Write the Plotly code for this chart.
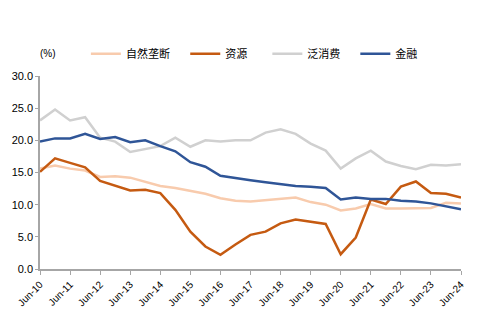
import plotly.graph_objects as go

periods = ["Jun-10","Dec-10","Jun-11","Dec-11","Jun-12","Dec-12","Jun-13","Dec-13",
           "Jun-14","Dec-14","Jun-15","Dec-15","Jun-16","Dec-16","Jun-17","Dec-17",
           "Jun-18","Dec-18","Jun-19","Dec-19","Jun-20","Dec-20","Jun-21","Dec-21",
           "Jun-22","Dec-22","Jun-23","Dec-23","Jun-24"]
tick_labels = [p for p in periods if p.startswith("Jun")]

natural_monopoly = [15.6,16.1,15.6,15.3,14.3,14.4,14.2,13.6,12.9,12.6,12.1,11.7,11.0,10.6,
                    10.5,10.7,10.9,11.1,10.4,10.0,9.1,9.4,10.1,9.4,9.4,9.4,9.5,10.3,10.2]
resources = [15.1,17.2,16.5,15.8,13.7,12.9,12.2,12.3,11.8,9.2,5.8,3.5,2.2,3.8,
             5.3,5.8,7.1,7.7,7.4,7.0,2.3,4.9,10.8,10.1,12.8,13.6,11.8,11.7,11.1]
consumption = [23.1,24.8,23.1,23.6,20.4,19.8,18.2,18.7,19.1,20.4,19.0,20.0,19.8,20.0,
               20.0,21.2,21.7,21.0,19.5,18.4,15.6,17.2,18.4,16.7,16.0,15.5,16.2,16.1,16.3]
finance = [19.8,20.3,20.3,21.0,20.2,20.5,19.7,20.0,19.1,18.3,16.6,15.9,14.5,14.1,
           13.8,13.5,13.2,12.9,12.8,12.6,10.8,11.1,10.9,10.9,10.6,10.5,10.2,9.8,9.3]

series = [
    ("自然垄断", natural_monopoly, "#F8CBAD", "legend"),
    ("资源", resources, "#C55A11", "legend2"),
    ("泛消费", consumption, "#D0D0D0", "legend3"),
    ("金融", finance, "#2F5597", "legend4"),
]
legend_x = [0.109, 0.345, 0.54, 0.749]

fig = go.Figure()
for name, vals, color, lg in series:
    fig.add_trace(go.Scatter(x=periods, y=vals, mode="lines", name=name,
                             line=dict(color=color, width=2.5), legend=lg))

W, H = 481, 335
ml, mr, mt, mb = 38, 20, 76, 66
font_cjk = "Noto Sans CJK SC, Arial"
legend_common = dict(orientation="h", yanchor="middle", y=1.115, xanchor="left",
                     font=dict(family=font_cjk, size=11, color="#000000"),
                     bgcolor="rgba(0,0,0,0)", borderwidth=0)
layout_legends = {}
for i, (s, lx) in enumerate(zip(series, legend_x)):
    key = "legend" if i == 0 else f"legend{i+1}"
    layout_legends[key] = dict(legend_common, x=lx)

fig.update_layout(
    width=W, height=H,
    margin=dict(l=ml, r=mr, t=mt, b=mb),
    plot_bgcolor="white", paper_bgcolor="white",
    font=dict(family="Liberation Sans, Arial", size=10, color="#000000"),
    showlegend=True,
    **layout_legends,
    xaxis=dict(type="category", range=[0, len(periods) - 1],
               tickmode="array", tickvals=tick_labels, ticktext=tick_labels,
               tickangle=-45, ticks="outside", ticklen=4, tickcolor="#A6A6A6",
               showline=True, linecolor="#A6A6A6", linewidth=1.5,
               showgrid=False, zeroline=False,
               tickfont=dict(family="Liberation Sans, Arial", size=10, color="#000000")),
    yaxis=dict(range=[0, 30], dtick=5, tickformat=".1f",
               ticks="outside", ticklen=3, tickcolor="#A6A6A6",
               showline=True, linecolor="#A6A6A6", linewidth=1.5,
               showgrid=False, zeroline=False,
               tickfont=dict(family="Liberation Sans, Arial", size=11, color="#000000")),
    annotations=[dict(text="(%)", xref="paper", yref="paper", x=-0.005, y=1.115,
                      xanchor="left", yanchor="middle", showarrow=False,
                      font=dict(family="Liberation Sans, Arial", size=10, color="#000000"))],
)

fig.write_html("out.html")
